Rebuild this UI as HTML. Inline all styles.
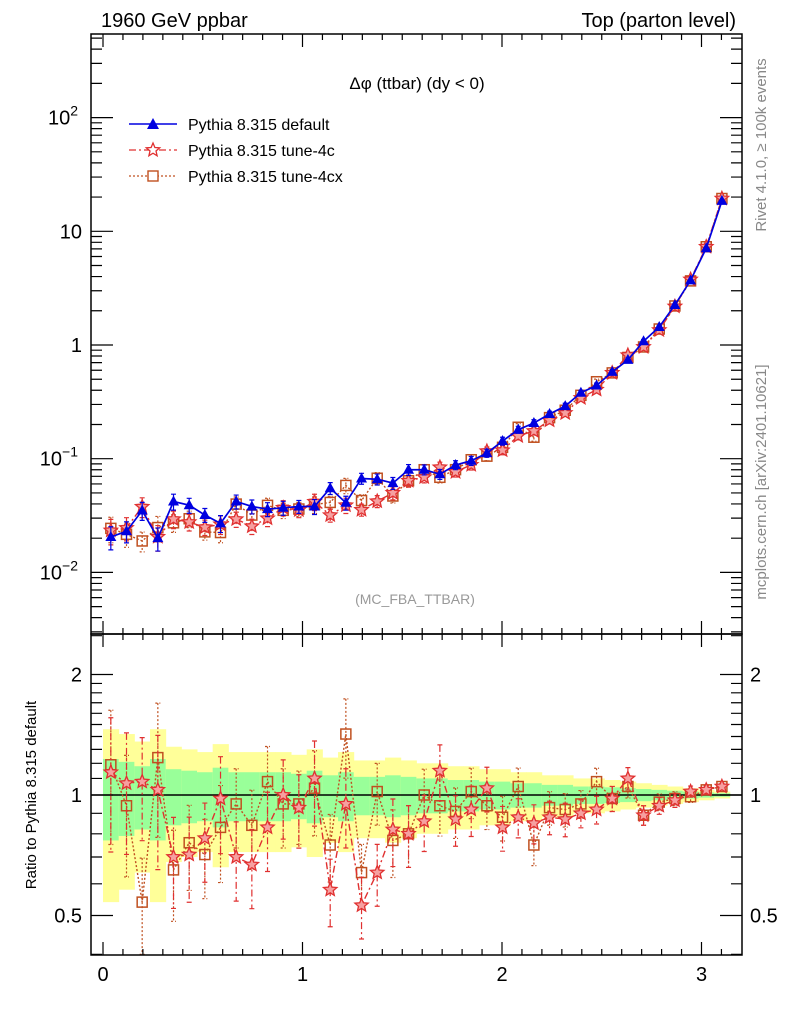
<!DOCTYPE html>
<html><head><meta charset="utf-8"><style>
html,body{margin:0;padding:0;background:#fff}
svg{display:block;font-family:"Liberation Sans",sans-serif}
</style></head><body>
<svg id="chart" width="786" height="1024" viewBox="0 0 786 1024" xmlns="http://www.w3.org/2000/svg">
<g id="bands"></g>
<g id="marks"></g>
<g id="axes"></g>
<text x="101" y="27" font-size="20">1960 GeV ppbar</text>
<text x="736" y="27" font-size="20" text-anchor="end">Top (parton level)</text>
<text x="417" y="89" font-size="17" text-anchor="middle">Δφ (ttbar) (dy &lt; 0)</text>
<text x="415" y="604" font-size="14" fill="#999" text-anchor="middle">(MC_FBA_TTBAR)</text>
<text transform="translate(766,145) rotate(-90)" font-size="15" fill="#888" text-anchor="middle">Rivet 4.1.0, ≥ 100k events</text>
<text transform="translate(766,482) rotate(-90)" font-size="15" fill="#888" text-anchor="middle">mcplots.cern.ch [arXiv:2401.10621]</text>
<text transform="translate(36,795) rotate(-90)" font-size="15" text-anchor="middle">Ratio to Pythia 8.315 default</text>
<g>
 <g>
  <line x1="129" y1="124" x2="177" y2="124" stroke="#0000e0" stroke-width="1.6"/>
  <path d="M153,118 L159,129 L147,129 Z" fill="#0000e0"/>
  <text x="188" y="130" font-size="16">Pythia 8.315 default</text>
 </g>
 <g>
  <line x1="129" y1="150" x2="177" y2="150" stroke="#e03030" stroke-width="1.3" stroke-dasharray="7,3,2,3"/>
  <path id="legstar" fill="#fff" stroke="#e03030" stroke-width="1.3"/>
  <text x="188" y="156" font-size="16">Pythia 8.315 tune-4c</text>
 </g>
 <g>
  <line x1="129" y1="176" x2="177" y2="176" stroke="#c05020" stroke-width="1.3" stroke-dasharray="2,2"/>
  <rect x="148" y="171" width="10" height="10" fill="#fff" stroke="#c05020" stroke-width="1.4"/>
  <text x="188" y="182" font-size="16">Pythia 8.315 tune-4cx</text>
 </g>
</g>
</svg>
<script>
const categories = Array.from({length:40},(_,i)=>i); // bin index, width pi/40
const defaultVals = [0.0205,0.023,0.035,0.020,0.042,0.039,0.032,0.027,0.042,0.038,0.036,0.037,0.038,0.038,0.055,0.041,0.067,0.066,0.061,0.080,0.080,0.073,0.088,0.096,0.112,0.143,0.18,0.206,0.247,0.29,0.38,0.44,0.58,0.74,1.08,1.44,2.25,3.7,7.1,18.5];
const ratio4c = [1.14,1.07,1.08,1.03,0.70,0.71,0.78,0.98,0.70,0.67,0.83,1.0,0.93,1.10,0.58,0.95,0.53,0.64,0.82,0.80,0.86,1.15,0.87,0.92,1.04,0.83,0.88,0.85,0.88,0.87,0.90,0.92,0.98,1.10,0.89,0.94,0.97,1.02,1.03,1.05];
const ratio4cx = [1.19,0.94,0.54,1.24,0.65,0.76,0.71,0.83,0.95,0.84,1.08,0.95,0.95,1.04,0.75,1.42,0.64,1.02,0.77,0.80,1.0,0.94,0.91,1.02,0.94,0.88,1.05,0.75,0.93,0.92,0.95,1.08,0.98,1.05,0.89,0.96,0.98,0.99,1.03,1.05];
const relErr = [0.23,0.21,0.18,0.23,0.16,0.15,0.14,0.17,0.14,0.14,0.14,0.14,0.13,0.15,0.12,0.14,0.11,0.11,0.12,0.11,0.10,0.10,0.09,0.09,0.08,0.08,0.07,0.07,0.06,0.06,0.05,0.05,0.045,0.04,0.035,0.03,0.025,0.02,0.015,0.01];
const xTicks = [0,1,2,3];
const mainTicks = [{v:0.01,l:"10",e:"−2"},{v:0.1,l:"10",e:"−1"},{v:1,l:"1"},{v:10,l:"10"},{v:100,l:"10",e:"2"}];
const ratioTicks = [0.5,1,2];

const NS="http://www.w3.org/2000/svg";
const L=91,R=742,T=34,MB=634,RB=955;
const X=v=>103+199.5*v;
const YM=v=>345-113.7*Math.log10(v);
const YR=v=>795-120.5*Math.log2(v);
const W=Math.PI/40;
const cx=i=>X((i+0.5)*W);
function el(tag,attrs,parent){const e=document.createElementNS(NS,tag);for(const k in attrs)e.setAttribute(k,attrs[k]);parent.appendChild(e);return e;}
function starPath(x,y,r){let d="";for(let k=0;k<10;k++){const a=-Math.PI/2+k*Math.PI/5;const rr=k%2?r*0.45:r;d+=(k?"L":"M")+(x+rr*Math.cos(a)).toFixed(1)+","+(y+rr*Math.sin(a)).toFixed(1);}return d+"Z";}
document.getElementById('legstar').setAttribute('d',starPath(153,150,7));

const bands=document.getElementById('bands');
const marks=document.getElementById('marks');
const axes=document.getElementById('axes');

categories.forEach(i=>{
  const x0=X(i*W),x1=X((i+1)*W),e=relErr[i];
  const y=el('rect',{x:x0,y:YR(1+2*e),width:x1-x0+0.5,height:YR(Math.max(1-2*e,0.41))-YR(1+2*e),fill:"#ffff99"},bands);
  
  
  const g=el('rect',{x:x0,y:YR(1+e),width:x1-x0+0.5,height:YR(1-e)-YR(1+e),fill:"#99ff99"},bands);
  
  
});
const one=el('line',{x1:L,x2:R,y1:YR(1),y2:YR(1),stroke:"#000","stroke-width":1.5},bands);



function series(vals,errs,yf,color,dash,marker,name,lo,hi){
  const g=el('g',{},marks);
  
  
  const pts=vals.map((v,i)=>[cx(i),yf(Math.min(Math.max(v,lo),hi))]);
  const pl=el('polyline',{points:pts.map(p=>p.join(",")).join(" "),fill:"none",stroke:color,"stroke-width":marker==="tri"?1.7:1.4,"stroke-dasharray":dash},g);
  
  
  vals.forEach((v,i)=>{
    const e=errs[i];const x=cx(i);
    const y1=yf(Math.min(v*(1+e),hi)),y2=yf(Math.max(v*(1-e),lo));
    const eb=el('path',{d:`M${x},${y1}V${y2}M${x-2.5},${y1}h5M${x-2.5},${y2}h5`,stroke:color,"stroke-width":1.2,fill:"none","stroke-dasharray":dash},g);
    
    
    const y=yf(Math.min(Math.max(v,lo),hi));let m;
    if(marker==="tri")m=el('path',{d:`M${x},${y-6}L${x+5.5},${y+4}L${x-5.5},${y+4}Z`,fill:color},g);
    else if(marker==="star")m=el('path',{d:starPath(x,y,7),fill:"#f6a0a0",stroke:color,"stroke-width":1.3},g);
    else m=el('rect',{x:x-5,y:y-5,width:10,height:10,fill:"none",stroke:color,"stroke-width":1.5},g);
    
    
  });
}
const v4c=defaultVals.map((v,i)=>v*ratio4c[i]);
const v4cx=defaultVals.map((v,i)=>v*ratio4cx[i]);
const eM=relErr.map(e=>e*1.1);
const eR=relErr.map(e=>e*1.6);
series(v4cx,eM,YM,"#c05020","2,2","sq","main-tune-4cx",0.003,500);
series(v4c,eM,YM,"#e03030","7,3,2,3","star","main-tune-4c",0.003,500);
series(defaultVals,relErr,YM,"#0000e0","","tri","main-default",0.003,500);
series(ratio4cx,eR,YR,"#c05020","2,2","sq","ratio-tune-4cx",0.4,2.5);
series(ratio4c,eR,YR,"#e03030","7,3,2,3","star","ratio-tune-4c",0.4,2.5);

[[T,MB],[MB,RB]].forEach((p,k)=>{
  const f=el('rect',{x:L,y:p[0],width:R-L,height:p[1]-p[0],fill:"none",stroke:"#000","stroke-width":1.5},axes);
  
  
});
let td="";
for(let t=0;t<=3.2;t+=0.1){const x=X(t);if(x<L||x>R)continue;const maj=Math.abs(t-Math.round(t))<1e-6;const len=maj?13:6;
  td+=`M${x},${T}v${len}M${x},${MB}v${-len}M${x},${MB}v${len}M${x},${RB}v${-len}`;}
for(let d=-3;d<=2;d++)for(let m=1;m<10;m++){const v=m*Math.pow(10,d);const y=YM(v);if(y<T||y>MB)continue;const len=m===1?22:11;td+=`M${L},${y}h${len}M${R},${y}h${-len}`;}
[0.4,0.5,0.6,0.7,0.8,0.9,1,1.1,1.2,1.3,1.4,1.5,1.6,1.7,1.8,1.9,2,2.5].forEach(v=>{const y=YR(v);if(y<MB||y>RB)return;const maj=ratioTicks.includes(v);const len=maj?22:11;td+=`M${L},${y}h${len}M${R},${y}h${-len}`;});
const tk=el('path',{d:td,stroke:"#000","stroke-width":1.2,fill:"none"},axes);


xTicks.forEach(t=>{const tx=el('text',{x:X(t),y:981,"font-size":20,"text-anchor":"middle"},axes);tx.textContent=t;
  
  });
mainTicks.forEach(t=>{const tx=el('text',{x:t.e?78:82,y:YM(t.v)+7,"font-size":20,"text-anchor":"end"},axes);
  tx.textContent=t.l;
  if(t.e){const s=el('tspan',{dy:-9,"font-size":14},tx);s.textContent=t.e;}
  
  });
ratioTicks.forEach(v=>{[82,750].forEach((x,k)=>{const tx=el('text',{x:x,y:YR(v)+7,"font-size":20,"text-anchor":k?"start":"end"},axes);tx.textContent=v;
  
  });});
</script>
</body></html>
